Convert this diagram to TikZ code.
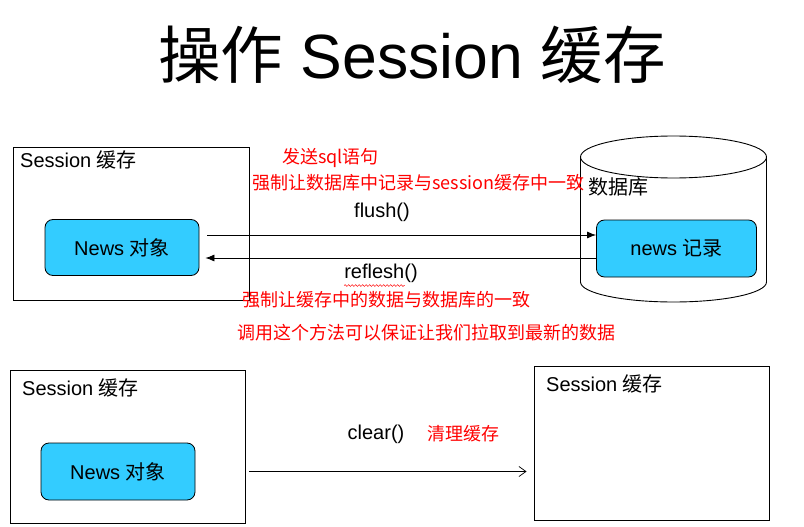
\documentclass[tikz,border=0pt]{standalone}
\usepackage{fontspec}
\setmainfont{Liberation Sans}
\newfontfamily\cjk{Noto Sans CJK SC}
\usetikzlibrary{arrows.meta,decorations.pathmorphing}
\definecolor{objblue}{HTML}{33CCFF}
\definecolor{notered}{HTML}{FF0000}
\tikzset{
  objbox/.style={draw, line width=0.8pt, fill=objblue, rounded corners=8pt,
    minimum width=154pt, minimum height=56pt, font=\fontsize{20}{22}\selectfont},
  lbl/.style={font=\fontsize{20}{22}\selectfont, inner sep=0pt},
  note/.style={text=notered, inner sep=0pt, anchor=west, font=\cjk\fontsize{18}{20}\selectfont},
  call/.style={line width=0.8pt},
}
\begin{document}
\begin{tikzpicture}[x=1pt,y=-1pt]
\useasboundingbox (0,0) rectangle (804,527);
\fill[white] (0,0) rectangle (804,527);

% heading
\node[font=\fontsize{62.5}{68}\selectfont, inner sep=0pt] (title) at (412,55) {{\cjk 操作} Session {\cjk 缓存}};

% ---- flush / reflesh ----
\node[draw, line width=0.9pt, minimum width=236pt, minimum height=153pt, inner sep=0pt] (cache1) at (131,223.5) {};
\node[lbl, anchor=west] (cache1lbl) at (20,160) {Session {\cjk 缓存}};
\node[objbox] (obj1) at (122,247.5) {News {\cjk 对象}};

% database cylinder
\draw[line width=0.9pt, fill=white] (580.5,157) -- (580.5,282) arc[start angle=180, end angle=0, x radius=93, y radius=20] -- (766.5,157);
\draw[line width=0.9pt] (673.5,157) ellipse[x radius=93, y radius=21];
\node[lbl, anchor=west] (dblbl) at (588,187) {\cjk 数据库};
\node[objbox, minimum width=160pt, minimum height=57pt] (rec) at (676.5,248.5) {news {\cjk 记录}};

\coordinate (fl0) at ([xshift=8pt, yshift=12.5pt]obj1.east);
\draw[call, -{Latex[length=9pt,width=7pt]}] (fl0) -- (rec.west |- fl0);
\coordinate (rf0) at ([yshift=-9.5pt]rec.west);
\draw[call, -{Latex[length=9pt,width=7pt]}] (rf0) -- ([xshift=6pt]obj1.east |- rf0);

\node[lbl, anchor=center] (flush) at (382,212) {flush()};
\node[lbl, anchor=center] (reflesh) at (381,273) {reflesh()};
% spell-check squiggle under the word
\draw[notered, line width=0.5pt, decorate, decoration={snake, amplitude=0.9pt, segment length=3.5pt}]
  ([yshift=-3pt]reflesh.south west) -- ([xshift=-13pt, yshift=-3pt]reflesh.south east);

\node[note] (n1) at (282,158) {发送sql语句};
\node[note] (n2) at (252,183) {强制让数据库中记录与session缓存中一致};
\node[note] (n3) at (242,300) {强制让缓存中的数据与数据库的一致};
\node[note] (n4) at (237,333) {调用这个方法可以保证让我们拉取到最新的数据};

% ---- clear ----
\node[draw, line width=0.9pt, minimum width=235pt, minimum height=153pt, inner sep=0pt] (cache2) at (127.5,446.5) {};
\node[lbl, anchor=west] (cache2lbl) at (22,388) {Session {\cjk 缓存}};
\node[objbox, minimum height=57pt] (obj2) at (118,471.5) {News {\cjk 对象}};

\node[draw, line width=0.9pt, minimum width=235pt, minimum height=154pt, inner sep=0pt] (cache3) at (651.5,443) {};
\node[lbl, anchor=west] (cache3lbl) at (546,384) {Session {\cjk 缓存}};

\coordinate (cl0) at ([xshift=54pt]obj2.east);
\draw[call, -{Straight Barb[length=7pt,width=10pt,line width=0.7pt]}] (cl0) -- ([xshift=-7pt]cache3.west |- cl0);
\node[lbl, anchor=center] (clear) at (376,434) {clear()};
\node[note] (n5) at (427,434) {清理缓存};
\end{tikzpicture}
\end{document}
